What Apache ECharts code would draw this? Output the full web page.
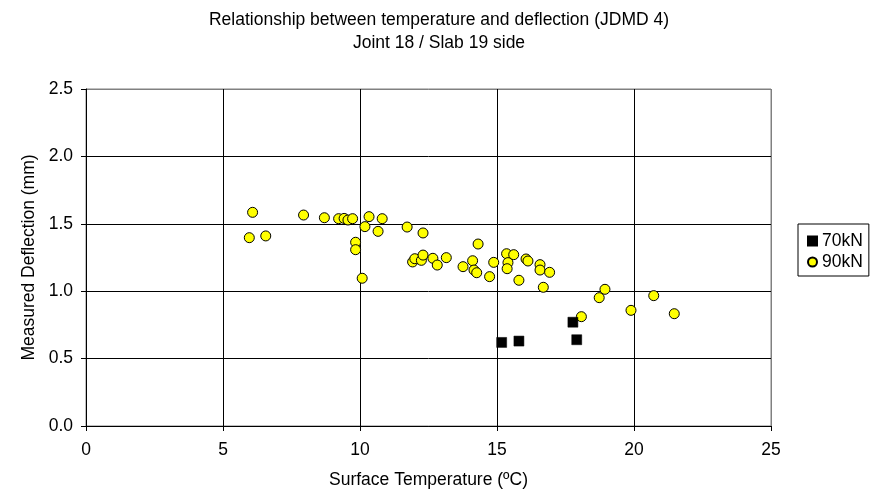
<!DOCTYPE html>
<html>
<head>
<meta charset="utf-8">
<script src="https://cdn.jsdelivr.net/npm/echarts@6/dist/echarts.min.js"></script>
<style>
html,body{margin:0;padding:0;background:#fff;}
#chart{width:878px;height:497px;}
</style>
</head>
<body>
<div id="chart"></div>
<script>
var titleLines = ["Relationship between temperature and deflection (JDMD 4)", "Joint 18 / Slab 19 side"];
var xAxisName = "Surface Temperature (ºC)";
var yAxisName = "Measured Deflection (mm)";
var seriesNames = ["70kN", "90kN"];
var xTicks = [0, 5, 10, 15, 20, 25];
var yTicks = [0.0, 0.5, 1.0, 1.5, 2.0, 2.5];

var temp70 = [15.17, 15.80, 17.77, 17.91];
var defl70 = [0.62, 0.63, 0.77, 0.64];

var temp90 = [6.08, 5.96, 6.56, 7.94, 8.70, 9.22, 9.42, 9.56, 9.73, 9.84, 9.84, 10.08, 10.18, 10.33, 10.66, 10.81, 11.72, 12.30, 11.92, 12.00, 12.24, 12.30, 12.66, 12.82, 13.15, 14.31, 13.76, 14.11, 14.16, 14.26, 14.73, 14.88, 15.35, 15.61, 15.40, 15.37, 15.80, 16.06, 16.13, 16.57, 16.57, 16.92, 16.69, 18.73, 18.08, 18.94, 20.72, 19.89, 21.47];
var defl90 = [1.585, 1.397, 1.41, 1.565, 1.545, 1.538, 1.54, 1.528, 1.538, 1.363, 1.308, 1.096, 1.479, 1.553, 1.444, 1.538, 1.476, 1.432, 1.217, 1.241, 1.229, 1.268, 1.244, 1.194, 1.249, 1.350, 1.182, 1.226, 1.157, 1.137, 1.108, 1.214, 1.278, 1.271, 1.212, 1.167, 1.081, 1.239, 1.224, 1.197, 1.157, 1.140, 1.029, 0.952, 0.811, 1.014, 0.967, 0.858, 0.833];

function pairs(xs, ys) { return xs.map(function (x, i) { return [x, ys[i]]; }); }
function gridColors(n) { var c = []; for (var i = 0; i < n; i++) c.push(i === n - 1 ? '#808080' : '#000'); return c; }

var FONT = "'Liberation Sans', Arial, sans-serif";
var FS = 17.5;
var chart = echarts.init(document.getElementById('chart'), null, {renderer: 'canvas'});
chart.setOption({
  animation: false,
  backgroundColor: '#ffffff',
  textStyle: {fontFamily: FONT, color: '#000'},
  title: {
    text: titleLines.join('\n'),
    left: 'center',
    top: 4,
    textStyle: {fontFamily: FONT, fontSize: FS, fontWeight: 'normal', color: '#000', lineHeight: 23}
  },
  legend: {
    orient: 'vertical',
    left: 798,
    top: 224,
    width: 69,
    padding: [7, 6, 4, 9],
    itemGap: 1,
    itemWidth: 9,
    itemHeight: 9,
    borderColor: '#000',
    borderWidth: 1,
    backgroundColor: '#fff',
    textStyle: {fontFamily: FONT, fontSize: FS, color: '#000', lineHeight: 20},
    data: [
      {name: seriesNames[0], icon: 'rect'},
      {name: seriesNames[1], icon: 'circle'}
    ]
  },
  grid: {
    left: 86, right: 107, top: 89, bottom: 71,
    show: true, borderColor: '#808080', borderWidth: 1, backgroundColor: '#fff'
  },
  xAxis: {
    type: 'value',
    min: xTicks[0], max: xTicks[xTicks.length - 1], interval: 5,
    name: xAxisName, nameLocation: 'middle', nameGap: 45,
    nameTextStyle: {fontFamily: FONT, fontSize: FS, color: '#000'},
    axisLine: {show: true, onZero: false, lineStyle: {color: '#000', width: 1}},
    axisTick: {show: true, inside: false, length: 5, lineStyle: {color: '#000'}},
    axisLabel: {fontFamily: FONT, fontSize: FS, color: '#000', margin: 15},
    splitLine: {show: true, lineStyle: {color: gridColors(xTicks.length), width: 1}}
  },
  yAxis: {
    type: 'value',
    min: yTicks[0], max: yTicks[yTicks.length - 1], interval: 0.5,
    name: yAxisName, nameLocation: 'middle', nameGap: 48, nameRotate: 90,
    nameTextStyle: {fontFamily: FONT, fontSize: FS, color: '#000'},
    axisLine: {show: true, onZero: false, lineStyle: {color: '#000', width: 1}},
    axisTick: {show: true, inside: false, length: 5, lineStyle: {color: '#000'}},
    axisLabel: {fontFamily: FONT, fontSize: FS, color: '#000', margin: 13,
      formatter: function (v) { return v.toFixed(1); }},
    splitLine: {show: true, lineStyle: {color: gridColors(yTicks.length), width: 1}}
  },
  series: [
    {
      name: seriesNames[0], type: 'scatter', symbol: 'rect', symbolSize: 10,
      itemStyle: {color: '#000', borderColor: '#000', borderWidth: 0.5, opacity: 1},
      data: pairs(temp70, defl70), z: 3
    },
    {
      name: seriesNames[1], type: 'scatter', symbol: 'circle', symbolSize: 10,
      itemStyle: {color: '#ffff00', borderColor: '#000', borderWidth: 1, opacity: 1},
      data: pairs(temp90, defl90), z: 2
    }
  ]
});
</script>
</body>
</html>
